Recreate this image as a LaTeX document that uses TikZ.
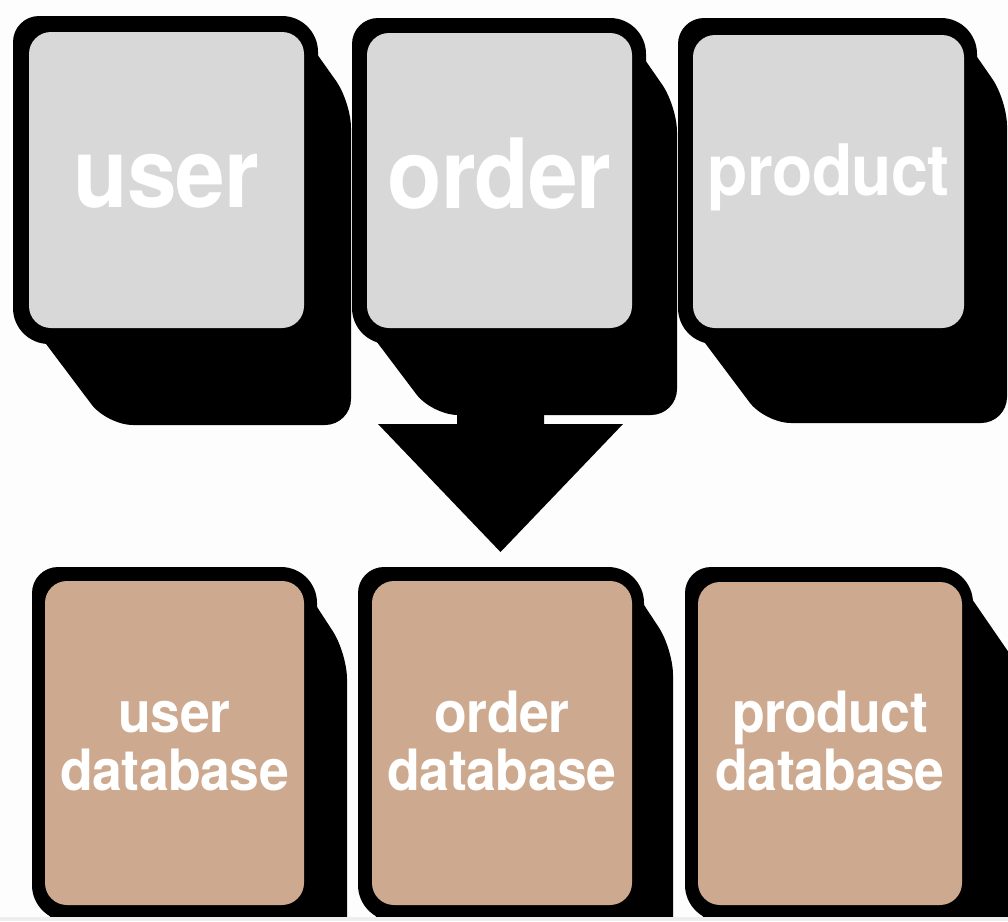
\documentclass[tikz,border=0pt]{standalone}
\usepackage{fontspec}
\setmainfont{TeX Gyre Heros}
\definecolor{keygray}{RGB}{216,216,216}
\definecolor{keytan}{RGB}{205,170,143}
\definecolor{stripgray}{RGB}{238,238,238}
\definecolor{paper}{RGB}{253,253,253}
\tikzset{
  shade3d/.style={fill=black, rounded corners=26pt},
  rim/.style={fill=black, rounded corners=36pt},
  face/.style={rectangle, inner sep=0pt, rounded corners=22pt},
  topface/.style={face, fill=keygray},
  dbface/.style={face, fill=keytan},
  biglbl/.style={text=white, anchor=base, inner sep=0pt,
    font=\fontsize{97}{97}\selectfont\bfseries\addfontfeatures{FakeStretch=0.92,LetterSpace=-1}},
  midlbl/.style={text=white, anchor=base, inner sep=0pt,
    font=\fontsize{71}{71}\selectfont\bfseries\addfontfeatures{FakeStretch=0.93,LetterSpace=-1}},
  dblbl/.style={text=white, anchor=base, inner sep=0pt,
    font=\fontsize{57}{57}\selectfont\bfseries\addfontfeatures{FakeStretch=0.94,LetterSpace=-1}},
  bigarrow/.style={fill=black}
}
\begin{document}
\begin{tikzpicture}[x=1pt,y=-1pt]
\useasboundingbox (0,0) rectangle (1008,921);
\fill[paper] (0,0) rectangle (1008,921);
\begin{scope}
\clip (0,0) rectangle (1008,917);
% shadows (top)
\fill[shade3d] (13,16) -- (290,16) -- (351,102) -- (351,425) -- (107,425) -- (13,300) -- cycle;
\fill[shade3d] (352,18) -- (616,18) -- (677,106) -- (677,415) -- (432,415) -- (352,309) -- cycle;
\fill[shade3d] (678,18) -- (950,18) -- (1007,100) -- (1007,423) -- (765,423) -- (678,307) -- cycle;
% shadows (bottom)
\fill[shade3d] (32,567) -- (291,567) -- (347,653) -- (347,990) -- (100,990) -- (32,890) -- cycle;
\fill[shade3d] (358,567) -- (619,567) -- (673,649) -- (673,990) -- (426,990) -- (358,890) -- cycle;
\fill[shade3d] (685,567) -- (950,567) -- (1060,727) -- (1060,990) -- (753,990) -- (685,890) -- cycle;
% rims
\fill[rim] (13,16) rectangle (318,344);
\fill[rim] (352,18) rectangle (646,344);
\fill[rim] (678,18) rectangle (977,344);
\fill[rim] (32,567) rectangle (317,921);
\fill[rim] (358,567) rectangle (644,921);
\fill[rim] (685,567) rectangle (973,921);
% faces
\node[topface, minimum width=275pt, minimum height=296pt] (user) at (166.5,180) {};
\node[topface, minimum width=265pt, minimum height=295pt] (order) at (499.5,180.5) {};
\node[topface, minimum width=271pt, minimum height=293pt] (product) at (828.5,181.5) {};
\node[dbface, minimum width=259pt, minimum height=324pt] (userdb) at (174.5,743) {};
\node[dbface, minimum width=260pt, minimum height=324pt] (orderdb) at (502,743) {};
\node[dbface, minimum width=264pt, minimum height=323pt] (productdb) at (830,743.5) {};
% labels
\node[biglbl] (userlbl) at (166.5,207) {user};
\node[biglbl] (orderlbl) at (499.5,208) {order};
\node[midlbl] (productlbl) at (828.5,195) {product};
\node[dblbl] (userdbA) at (174.5,732) {user};
\node[dblbl] (userdbB) at (174.5,790) {database};
\node[dblbl] (orderdbA) at (502,732) {order};
\node[dblbl] (orderdbB) at (502,790) {database};
\node[dblbl] (productdbA) at (830,732) {product};
\node[dblbl] (productdbB) at (830,790) {database};
% arrow
\fill[bigarrow] (457,395) -- (544,395) -- (544,424) -- (623,424) -- (500.5,552) -- (378,424) -- (457,424) -- cycle;
\end{scope}
\fill[stripgray] (0,917) rectangle (1008,921);
\end{tikzpicture}
\end{document}
